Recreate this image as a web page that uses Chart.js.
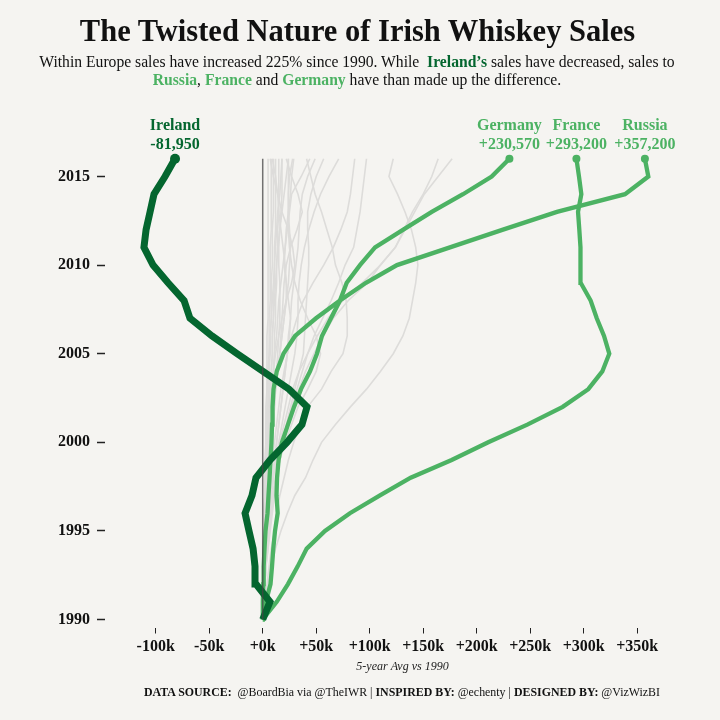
<!DOCTYPE html>
<html>
<head>
<meta charset="utf-8">
<script src="https://cdn.jsdelivr.net/npm/chart.js@4"></script>
<style>
  body { margin: 0; background: #f5f4f1; font-family: "Liberation Serif", serif; color: #111; }
  #wrap { position: relative; width: 720px; height: 720px; overflow: hidden; }
  canvas { position: absolute; left: 0; top: 0; }
  .txt { position: absolute; white-space: nowrap; }
  #title { left: 0; width: 715px; top: 12px; text-align: center; font-size: 30.5px; font-weight: bold; line-height: 38px; }
  #sub { left: 0; width: 714px; top: 53px; text-align: center; font-size: 15.65px; line-height: 17.5px; }
  #foot { right: 60px; top: 685px; font-size: 11.9px; line-height: 15px; }
  .ire { color: #04662f; font-weight: bold; }
  .grn { color: #4cb263; font-weight: bold; }
</style>
</head>
<body>
<div id="wrap">
  <canvas id="chart" width="720" height="720"></canvas>
  <div class="txt" id="title">The Twisted Nature of Irish Whiskey Sales</div>
  <div class="txt" id="sub">Within Europe sales have increased 225% since 1990. While &nbsp;<span class="ire">Ireland’s</span> sales have decreased, sales to<br><span class="grn">Russia</span>, <span class="grn">France</span> and <span class="grn">Germany</span> have than made up the difference.</div>
  <div class="txt" id="foot"><b>DATA SOURCE:</b>&nbsp; @BoardBia via @TheIWR | <b>INSPIRED BY:</b> @echenty | <b>DESIGNED BY:</b> @VizWizBI</div>
</div>
<script>
// years and axis ticks
const years = [1990,1991,1992,1993,1994,1995,1996,1997,1998,1999,2000,2001,2002,2003,2004,2005,2006,2007,2008,2009,2010,2011,2012,2013,2014,2015,2016];
const yearTicks = [1990,1995,2000,2005,2010,2015];
const salesTicks = [-100,-50,0,50,100,150,200,250,300,350];

// highlighted countries, thousands of cases vs 1990
const ireland = [0,6.8,-6.3,-7.2,-9,-12.8,-16.5,-10,-6.3,6.8,22.7,36.7,41.4,24.6,0.3,-24,-47.4,-68,-73.5,-88.5,-102.5,-111,-109,-105.3,-101.6,-91.3,-81.95];
const germany = [0,3,7.3,8.7,9.9,11.5,14,12.9,13.4,14.8,18,23.6,29.3,35.8,44.2,50.7,55.4,63.8,72.2,78.5,90.9,105,131.4,158,187.2,214,230.57];
const france = [0,13.1,23.6,32.7,41.1,58.2,81.5,109.6,138.3,176.6,210.8,247.3,280.4,304.3,317.4,323.9,319,312.2,306.5,297.2,297.2,296.8,295.9,294.7,297.8,295.6,293.2];
const russia = [0,0.1,0.5,0.9,1.7,2.6,4.5,5.4,6.4,7.3,8.2,8.7,9.2,10.1,13.1,19.4,30.2,49.8,72.2,96.5,125.5,175,224.6,275,338.6,360.4,357.2];
const zeroLine = [0,0];
const zeroYears = [1990,2016];

// rest of Europe
const others = [
  [0,2,5,8,12,17,23,30,40,47,55,68,82,97,110,122,131,137,140,143,145,143,139,133,126,118,122],
  [0,0.5,1,2,3,4,6,8,10,12,16,20,24,28,34,42,51,61,75,93,110,124,133,142,151,164,177],
  [0,1,2,3,5,7,9,11,13,16,20,24,28,34,40,48,56,66,80,98,110,124,132,140,150,158,164],
  [0,2,4,6,8,11,13,16,20,24,29,35,42,55,64,75,79,79,78,74,68,65,60,55,49,45,41],
  [0,1,1,2,3,4,5,6,7,9,11,13,15,17,20,23,27,32,38,47,57,66,73,79,82,84,86],
  [0,1,2,3,5,6,8,10,13,16,19,23,27,32,37,42,48,56,64,71,77,85,88,91,93,95,97],
  [0,1,1,2,3,4,6,8,10,12,15,18,21,24,27,30,32,33,33,34,36,39,43,48,54,62,71],
  [0,1,2,3,4,6,8,10,13,16,19,22,26,30,34,38,39,40,41,42,43,43,42,42,45,50,57],
  [0,1,1,2,3,4,6,7,9,11,13,15,17,19,21,23,24,26,27,29,31,33,34,35,37,42,49],
  [0,0,1,2,3,4,5,7,9,11,13,15,17,19,21,23,25,26,24,22,20,21,23,25,27,36,44],
  [0,1,2,3,4,5,7,9,12,16,21,27,33,42,50,54,50,42,35,30,27,25,24,24,24,25,28],
  [0,0,1,2,3,4,5,6,7,8,9,10,11,12,14,16,18,20,22,24,25,26,25,24,24,24,24],
  [0,0,1,1,2,3,4,5,6,7,8,10,11,12,14,16,17,18,19,20,22,26,32,37,33,27,22],
  [0,0,1,1,2,3,4,5,6,7,8,9,10,12,13,14,15,16,16,16,15,15,16,17,18,18,18],
  [0,0,1,1,2,3,3,4,5,6,7,8,9,10,10,11,11,12,12,13,13,14,14,15,15,15,15],
  [0,0,1,1,1,2,3,3,4,5,6,6,7,8,8,9,9,10,10,11,11,11,12,12,12,12,12],
  [0,0,0,1,1,2,2,3,3,4,4,5,5,6,6,7,7,8,8,8,9,9,9,10,10,10,10],
  [0,0,0,1,1,1,2,2,3,3,4,4,5,5,5,6,6,6,7,7,7,7,8,8,8,8,8],
  [0,0,0,0,1,1,1,2,2,2,3,3,3,4,4,4,4,5,5,5,5,5,5,5,5,5,5],
  [0,0,1,1,2,2,3,4,5,6,7,8,10,12,14,16,18,20,22,22,21,19,17,15,14,12,9],
  [0,0,0,1,1,2,2,3,3,4,5,6,7,8,10,12,15,18,22,27,30,28,24,18,14,10,7],
  [0,0,1,1,2,2,3,3,4,5,6,7,8,9,10,11,13,14,15,17,19,21,22,24,26,27,29],
  [0,0,0,1,1,1,2,3,3,4,5,5,6,7,8,9,9,10,11,12,13,14,16,18,20,22,24],
  [0,0,0,0,1,1,1,2,2,3,3,3,4,4,5,6,7,8,9,10,11,12,13,14,16,17,18]
];

// end labels
const endNames = ["Ireland","Germany","France","Russia"];
const endValues = ["-81,950","+230,570","+293,200","+357,200"];
const endSeries = [ireland,germany,france,russia];
const endColors = ["#04662f","#4cb263","#4cb263","#4cb263"];

const pts = (vals, ys) => vals.map((v, i) => ({ x: v, y: ys[i] }));
const lastDot = (r) => (ctx) => ctx.dataIndex === years.length - 1 ? r : 0;

const highlight = (label, vals, color, width, r) => ({
  label,
  data: pts(vals, years),
  borderColor: color,
  backgroundColor: color,
  borderWidth: width,
  pointRadius: lastDot(r),
  pointBorderWidth: 0,
  tension: 0,
  clip: false
});

const datasets = [
  { label: "zero", data: pts(zeroLine, zeroYears), borderColor: "rgba(70,70,70,0.75)", borderWidth: 1.5, pointRadius: 0 },
  highlight("Ireland", ireland, "#04662f", 7, 5),
  highlight("Germany", germany, "#4cb263", 4.3, 4),
  highlight("France", france, "#4cb263", 4.3, 4),
  highlight("Russia", russia, "#4cb263", 4.3, 4)
];
others.forEach((vals, i) => {
  datasets.push({ label: "other" + i, data: pts(vals, years), borderColor: "#dddcda", borderWidth: 1.6, pointRadius: 0, tension: 0 });
});

// writes the two-line labels above each end point
const endLabels = {
  id: "endLabels",
  afterDraw(chart) {
    const c = chart.ctx;
    const top = chart.scales.y.getPixelForValue(2016);
    c.save();
    c.textAlign = "center";
    c.textBaseline = "middle";
    c.font = 'bold 16px "Liberation Serif"';
    endNames.forEach((name, i) => {
      const series = endSeries[i];
      const x = chart.scales.x.getPixelForValue(series[series.length - 1]);
      c.fillStyle = endColors[i];
      c.fillText(name, x, top - 33);
      c.fillText(endValues[i], x, top - 14);
    });
    c.restore();
  }
};

new Chart(document.getElementById("chart"), {
  type: "line",
  data: { datasets },
  plugins: [endLabels],
  options: {
    responsive: false,
    animation: false,
    layout: { padding: { top: 149.9, right: 20, bottom: 42.5, left: 0 } },
    plugins: { legend: { display: false }, tooltip: { enabled: false }, title: { display: false } },
    scales: {
      x: {
        type: "linear",
        min: -147.4,
        max: 408.7,
        border: { display: false },
        grid: { drawOnChartArea: false, tickLength: 6, tickColor: "#222", tickWidth: 1 },
        afterBuildTicks: (s) => { s.ticks = salesTicks.map((v) => ({ value: v })); },
        afterFit: (s) => { s.height = 50; },
        ticks: {
          color: "#111",
          padding: 4,
          maxRotation: 0,
          font: { family: "Liberation Serif", size: 16, weight: "bold" },
          callback: (v) => (v < 0 ? "-" + Math.abs(v) : "+" + v) + "k"
        },
        title: {
          display: true,
          text: "5-year Avg vs 1990",
          color: "#222",
          padding: { top: 0, bottom: 3 },
          font: { family: "Liberation Serif", size: 12, style: "italic" }
        }
      },
      y: {
        type: "linear",
        min: 1989.55,
        max: 2016.5,
        border: { display: false },
        grid: { drawOnChartArea: false, tickLength: 8, tickColor: "#222", tickWidth: 1.5 },
        afterBuildTicks: (s) => { s.ticks = yearTicks.map((v) => ({ value: v })); },
        afterFit: (s) => { s.width = 105; },
        ticks: {
          color: "#111",
          padding: 7,
          font: { family: "Liberation Serif", size: 16, weight: "bold" },
          callback: (v) => String(v)
        }
      }
    }
  }
});
</script>
</body>
</html>
